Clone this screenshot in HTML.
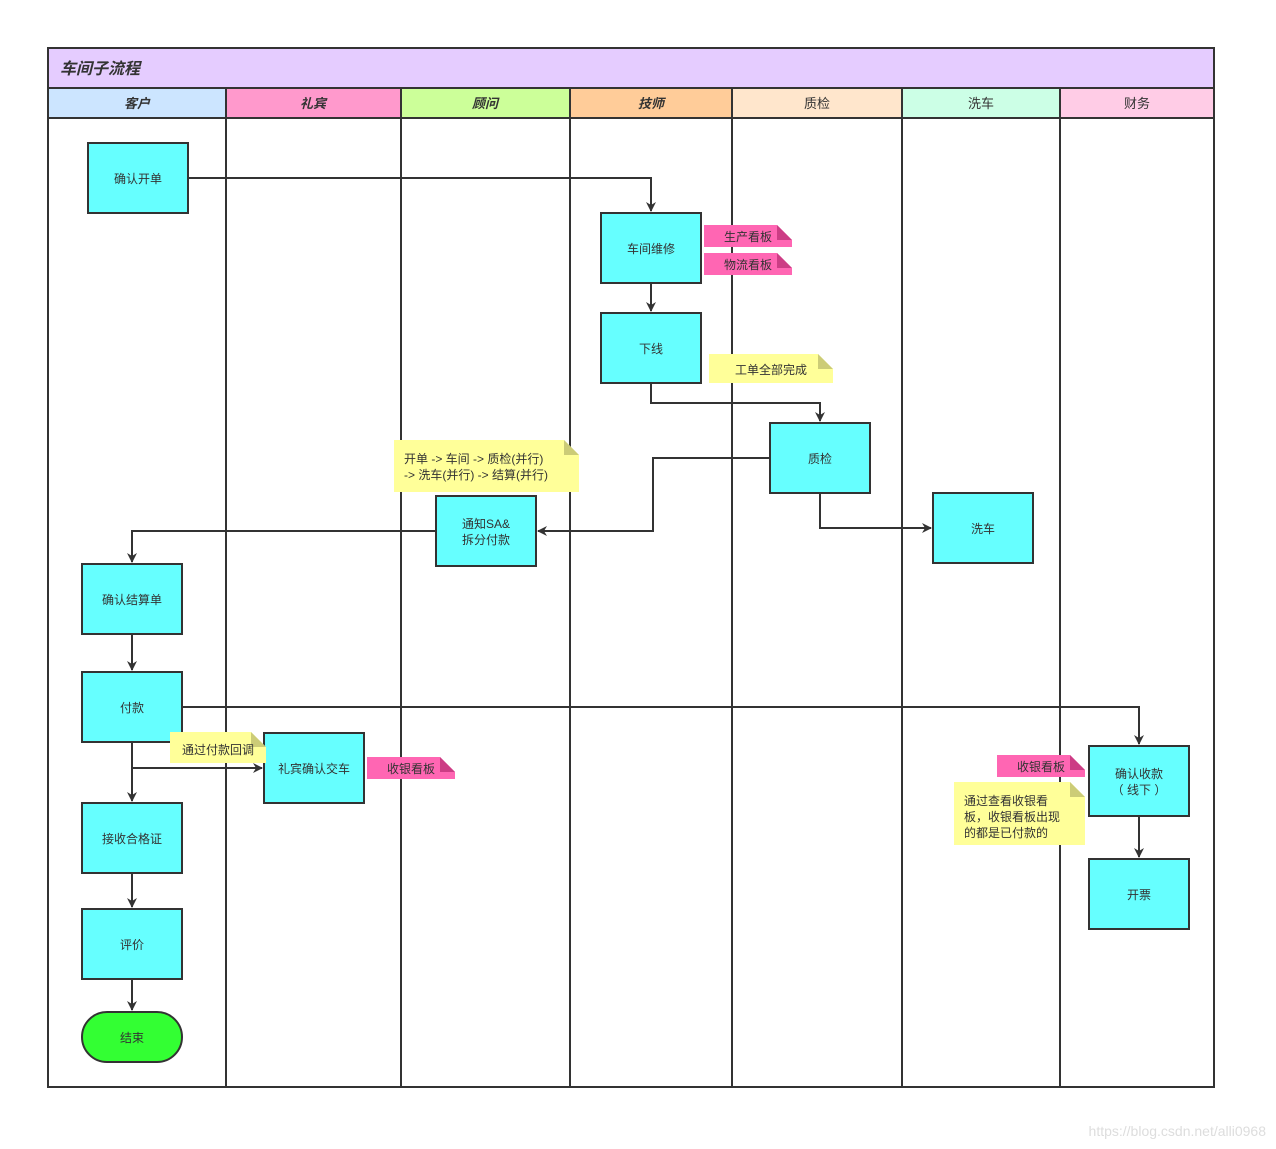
<!DOCTYPE html>
<html><head><meta charset="utf-8"><style>
body{margin:0;background:#fff;}
svg{display:block;font-family:"Liberation Sans","Noto Sans CJK SC",sans-serif;}
</style></head><body>
<svg width="1276" height="1149" viewBox="0 0 1276 1149" xmlns="http://www.w3.org/2000/svg">
<defs>
<marker id="a" markerWidth="10" markerHeight="10" refX="9" refY="5" orient="auto" markerUnits="userSpaceOnUse"><path d="M0,0 L10,5 L0,10 L3,5 Z" fill="#333"/></marker>
</defs>
<rect x="0" y="0" width="1276" height="1149" fill="#fff"/>
<!-- title -->
<rect x="48" y="48" width="1166" height="40" fill="#e5ccff" stroke="#333" stroke-width="2"/>
<text x="60" y="74" font-size="16" font-style="italic" font-weight="bold" fill="#333">车间子流程</text>
<!-- headers -->
<g stroke="#333" stroke-width="2" font-size="13" fill="#333">
<rect x="48" y="88" width="178" height="30" fill="#cce5ff"/>
<rect x="226" y="88" width="175" height="30" fill="#ff99cc"/>
<rect x="401" y="88" width="169" height="30" fill="#ccff99"/>
<rect x="570" y="88" width="162" height="30" fill="#ffcc99"/>
<rect x="732" y="88" width="170" height="30" fill="#ffe6cc"/>
<rect x="902" y="88" width="158" height="30" fill="#ccffe6"/>
<rect x="1060" y="88" width="154" height="30" fill="#ffcce6"/>
<rect x="48" y="118" width="1166" height="969" fill="none"/>
<line x1="226" y1="118" x2="226" y2="1087"/>
<line x1="401" y1="118" x2="401" y2="1087"/>
<line x1="570" y1="118" x2="570" y2="1087"/>
<line x1="732" y1="118" x2="732" y2="1087"/>
<line x1="902" y1="118" x2="902" y2="1087"/>
<line x1="1060" y1="118" x2="1060" y2="1087"/>
</g>
<g font-size="13" fill="#333" text-anchor="middle">
<text x="137" y="108" font-style="italic" font-weight="bold">客户</text>
<text x="313" y="108" font-style="italic" font-weight="bold">礼宾</text>
<text x="485" y="108" font-style="italic" font-weight="bold">顾问</text>
<text x="651" y="108" font-style="italic" font-weight="bold">技师</text>
<text x="817" y="108">质检</text>
<text x="981" y="108">洗车</text>
<text x="1137" y="108">财务</text>
</g>
<!-- connectors -->
<g stroke="#333" stroke-width="2" fill="none" marker-end="url(#a)">
<path d="M188,178 H651 V211"/>
<path d="M651,283 V311"/>
<path d="M651,383 V403 H820 V421"/>
<path d="M770,458 H653 V531 H538"/>
<path d="M820,493 V528 H931"/>
<path d="M436,531 H132 V562"/>
<path d="M132,634 V670"/>
<path d="M182,707 H1139 V744"/>
<path d="M132,742 V801"/>
<path d="M132,768 H262"/>
<path d="M132,873 V907"/>
<path d="M132,979 V1010"/>
<path d="M1139,816 V857"/>
</g>
<!-- boxes -->
<g stroke="#333" stroke-width="2" fill="#66ffff">
<rect x="88" y="143" width="100" height="70"/>
<rect x="601" y="213" width="100" height="70"/>
<rect x="601" y="313" width="100" height="70"/>
<rect x="770" y="423" width="100" height="70"/>
<rect x="933" y="493" width="100" height="70"/>
<rect x="436" y="496" width="100" height="70"/>
<rect x="82" y="564" width="100" height="70"/>
<rect x="82" y="672" width="100" height="70"/>
<rect x="264" y="733" width="100" height="70"/>
<rect x="82" y="803" width="100" height="70"/>
<rect x="82" y="909" width="100" height="70"/>
<rect x="1089" y="746" width="100" height="70"/>
<rect x="1089" y="859" width="100" height="70"/>
<rect x="82" y="1012" width="100" height="50" rx="25" fill="#33ff33"/>
</g>
<!-- notes -->
<g>
<path d="M704,225 H777 L792,240 V247 H704 Z" fill="#ff66b3"/><path d="M777,225 L792,240 H777 Z" fill="#cc3d85"/>
<path d="M704,253 H777 L792,268 V275 H704 Z" fill="#ff66b3"/><path d="M777,253 L792,268 H777 Z" fill="#cc3d85"/>
<path d="M709,354 H818 L833,369 V383 H709 Z" fill="#ffff99"/><path d="M818,354 L833,369 H818 Z" fill="#cccc77"/>
<path d="M394,440 H564 L579,455 V492 H394 Z" fill="#ffff99"/><path d="M564,440 L579,455 H564 Z" fill="#cccc77"/>
<path d="M170,732 H251 L266,747 V763 H170 Z" fill="#ffff99"/><path d="M251,732 L266,747 H251 Z" fill="#cccc77"/>
<path d="M367,757 H440 L455,772 V779 H367 Z" fill="#ff66b3"/><path d="M440,757 L455,772 H440 Z" fill="#cc3d85"/>
<path d="M997,755 H1070 L1085,770 V777 H997 Z" fill="#ff66b3"/><path d="M1070,755 L1085,770 H1070 Z" fill="#cc3d85"/>
<path d="M954,782 H1070 L1085,797 V845 H954 Z" fill="#ffff99"/><path d="M1070,782 L1085,797 H1070 Z" fill="#cccc77"/>
</g>
<g font-size="12" fill="#333" text-anchor="middle">
<text x="138" y="183">确认开单</text>
<text x="651" y="253">车间维修</text>
<text x="651" y="353">下线</text>
<text x="820" y="463">质检</text>
<text x="983" y="533">洗车</text>
<text x="486" y="528">通知SA&amp;</text>
<text x="486" y="544">拆分付款</text>
<text x="132" y="604">确认结算单</text>
<text x="132" y="712">付款</text>
<text x="314" y="773">礼宾确认交车</text>
<text x="132" y="843">接收合格证</text>
<text x="132" y="949">评价</text>
<text x="132" y="1042">结束</text>
<text x="1139" y="778">确认收款</text>
<text x="1139" y="794">（ 线下 ）</text>
<text x="1139" y="899">开票</text>
<text x="748" y="241">生产看板</text>
<text x="748" y="269">物流看板</text>
<text x="771" y="374">工单全部完成</text>
<text x="218" y="754">通过付款回调</text>
<text x="411" y="773">收银看板</text>
<text x="1041" y="771">收银看板</text>
</g>
<g font-size="12" fill="#333">
<text x="404" y="463">开单 -&gt; 车间 -&gt; 质检(并行)</text>
<text x="404" y="479">-&gt; 洗车(并行) -&gt; 结算(并行)</text>
<text x="964" y="805">通过查看收银看</text>
<text x="964" y="821">板，收银看板出现</text>
<text x="964" y="837">的都是已付款的</text>
</g>
<text x="1266" y="1136" font-size="14" fill="#ddd" text-anchor="end">https://blog.csdn.net/alli0968</text>
</svg>
</body></html>
